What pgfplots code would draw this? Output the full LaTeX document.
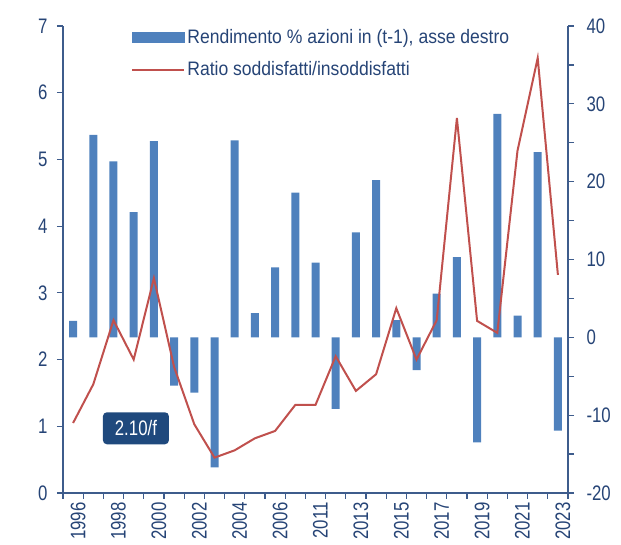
\documentclass[border=0pt]{standalone}
\usepackage{pgfplots}
\pgfplotsset{compat=1.18}
\usepackage{fontspec}
\setmainfont{Liberation Sans}
\newfontfamily\tickfont[FakeStretch=0.8]{Liberation Sans}
\newfontfamily\legfont[FakeStretch=0.9]{Liberation Sans}
\definecolor{barblue}{RGB}{79,129,189}
\definecolor{linered}{RGB}{192,80,77}
\definecolor{axblue}{RGB}{62,92,140}
\definecolor{txtblue}{RGB}{38,68,118}
\definecolor{boxblue}{RGB}{31,73,125}
\pgfplotstableread{
x y
0 2.1
1 26.0
2 22.6
3 16.1
4 25.2
5 -6.2
6 -7.1
7 -16.7
8 25.3
9 3.1
10 9.0
11 18.6
12 9.6
13 -9.2
14 13.5
15 20.2
16 2.2
17 -4.2
18 5.6
19 10.3
20 -13.5
21 28.7
22 2.8
23 23.8
24 -12.0
}\bardata
\pgfplotstableread{
x y
0 1.05
1 1.63
2 2.59
3 2.00
4 3.22
5 1.89
6 1.03
7 0.53
8 0.64
9 0.82
10 0.93
11 1.32
12 1.32
13 2.05
14 1.53
15 1.78
16 2.77
17 2.00
18 2.59
19 5.62
20 2.58
21 2.40
22 5.13
23 6.52
24 3.27
}\linedata
\begin{document}
\begin{tikzpicture}
\pgfplotsset{
  every axis/.append style={
    at={(0pt,0pt)}, anchor=south west,
    scale only axis, width=505pt, height=467pt,
    xmin=-0.5, xmax=24.5,
    axis line style={axblue, line width=1.2pt},
    every tick/.style={axblue, line width=1.2pt},
    tick label style={font=\fontsize{21}{25}\tickfont, text=txtblue},
    /pgf/number format/assume math mode=true,
    major tick length=6pt, minor tick length=6pt,
    tick align=outside,
  }
}
\begin{axis}[
  axis y line*=right, axis x line*=bottom,
  ymin=-20, ymax=40, ytick={-20,-10,...,40}, minor ytick={-15,-5,...,35},
  yticklabel style={xshift=9pt},
  xtick={0,2,...,24},
  xticklabels={1996,1998,2000,2002,2004,2006,2011,2013,2015,2017,2019,2021,2023},
  minor xtick={-0.5,0.5,...,24.5},
  every major x tick/.append style={draw=none},
  xticklabel style={rotate=90, anchor=east, yshift=-5pt},
]
\addplot[ybar, bar width=8pt, bar shift=0pt, fill=barblue, draw=none] table[x=x,y=y] {\bardata};
\end{axis}
\begin{axis}[
  axis y line*=left, axis x line=none,
  ymin=0, ymax=7, ytick={0,1,...,7},
  yticklabel style={xshift=-6pt},
  legend style={at={(0.135,0.998)}, anchor=north west, draw=none, fill=none,
    font=\fontsize{19.5}{22}\legfont, text=txtblue, row sep=13pt, inner sep=0pt},
  legend cell align=left,
]
\addlegendimage{legend image code/.code={\fill[barblue] (0pt,-5pt) rectangle (52pt,5pt);}}
\addlegendentry{Rendimento \% azioni in (t-1), asse destro}
\addplot[linered, line width=2pt, no marks,
  legend image code/.code={\draw[linered,line width=2pt] (0pt,0pt) -- (52pt,0pt);}]
  table[x=x,y=y] {\linedata};
\addlegendentry{Ratio soddisfatti/insoddisfatti}
\node[fill=boxblue, rounded corners=4pt, text=white, minimum width=66pt, minimum height=32pt,
  inner sep=0pt, font=\fontsize{21}{25}\tickfont] at (axis cs:3.11,0.97) {2.10/f};
\end{axis}
\pgfresetboundingbox
\path[use as bounding box] (-63pt,-52pt) rectangle (558pt,493pt);
\end{tikzpicture}
\end{document}
